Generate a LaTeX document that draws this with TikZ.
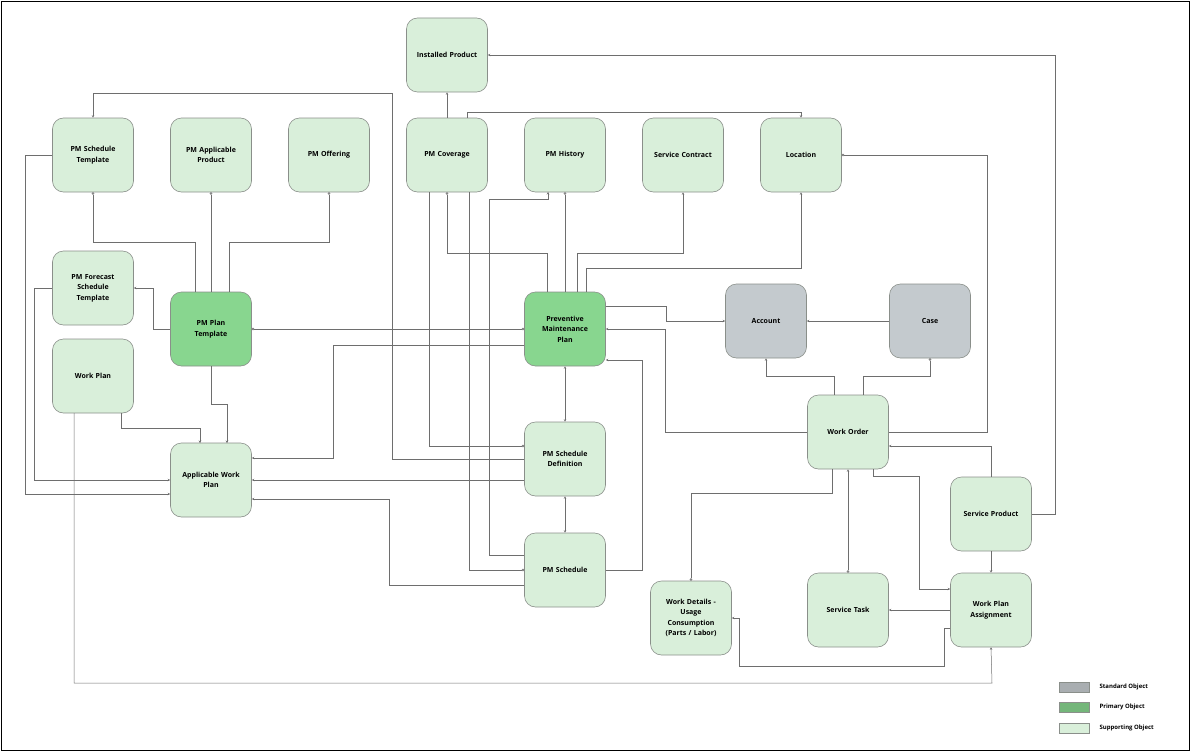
\documentclass[tikz,border=0pt]{standalone}
\usepackage{fontspec}
\setmainfont{Open Sans}
\usetikzlibrary{arrows.meta}
\definecolor{sup}{HTML}{D9EFDA}
\definecolor{pri}{HTML}{88D68F}
\definecolor{std}{HTML}{C4CACE}
\definecolor{bd}{HTML}{8A8F8A}
\definecolor{ln}{HTML}{6E6E6E}
\begin{document}
\begin{tikzpicture}[x=1pt,y=-1pt,
  box/.style={draw=bd,line width=0.6pt,rounded corners=11pt,minimum width=81pt,minimum height=74pt,inner sep=1pt,align=center,text width=76pt,font=\fontsize{7}{10.5}\selectfont\bfseries},
  s/.style={box,fill=sup}, p/.style={box,fill=pri}, g/.style={box,fill=std},
  c/.style={draw=ln,line width=0.5pt},
  a/.style={c,-{Stealth[length=2.5pt,width=2.5pt]}},
  o/.style={c,-{Circle[open,length=2.5pt]}},
  lg/.style={font=\fontsize{6}{7}\selectfont\bfseries,anchor=west}]
\useasboundingbox (0,0) rectangle (1191,752);
\draw[black,line width=0.8pt] (1.5,1.5) rectangle (1189.5,750.5);
% nodes
\node[s] (ip) at (447,55) {Installed Product};
\node[s] (pst) at (93,155) {PM Schedule\\Template};
\node[s] (pap) at (211,155) {PM Applicable\\Product};
\node[s] (pmo) at (329,155) {PM Offering};
\node[s] (pcov) at (447,155) {PM Coverage};
\node[s] (phist) at (565,155) {PM History};
\node[s] (sc) at (683,155) {Service Contract};
\node[s] (loc) at (801,155) {Location};
\node[s] (pfst) at (93,288) {PM Forecast\\Schedule\\Template};
\node[p] (ppt) at (211,329) {PM Plan\\Template};
\node[p] (pmp) at (565,329) {Preventive\\Maintenance\\Plan};
\node[g] (acc) at (766,321) {Account};
\node[g] (case) at (930,321) {Case};
\node[s] (wp) at (93,376) {Work Plan};
\node[s] (awp) at (211,480) {Applicable Work\\Plan};
\node[s] (psd) at (565,459) {PM Schedule\\Definition};
\node[s] (wo) at (848,432) {Work Order};
\node[s] (sp) at (991,514) {Service Product};
\node[s] (ps) at (565,570) {PM Schedule};
\node[s] (wd) at (691,618) {Work Details -\\Usage\\Consumption\\(Parts / Labor)};
\node[s] (st) at (848,610) {Service Task};
\node[s] (wpa) at (991,610) {Work Plan\\Assignment};
% connectors
\draw[a] (psd.west |- 0,459) -- (392,459) -- (392,93) -- (93,93) -- (pst.north);
\draw[a] (pst.west) -- (25,155) -- (25,494) -- (awp.west |- 0,494);
\draw[a] (pfst.west) -- (34,288) -- (34,480) -- (awp.west);
\draw[a] (ppt.west) -- (153,329) -- (153,288) -- (pfst.east);
\draw[o] (195,292) -- (195,242) -- (93,242) -- (pst.south);
\draw[o] (pap.north |- ppt.north) -- (pap.south);
\draw[o] (229,292) -- (229,242) -- (329,242) -- (pmo.south);
\draw[c,{Circle[open,length=2.5pt]}-{Circle[open,length=2.5pt]}] (ppt.east) -- (pmp.west);
\draw[a] (pmp.west |- 0,345) -- (333,345) -- (333,458) -- (awp.east |- 0,458);
\draw[a] (psd.west |- 0,480) -- (awp.east);
\draw[a] (ps.west |- 0,585) -- (389,585) -- (389,499) -- (awp.east |- 0,499);
\draw[a] (ppt.south) -- (211,404) -- (227,404) -- (227,443);
\draw[a] (121,413) -- (121,428) -- (200,428) -- (200,443);
\draw[a] (74,413) -- (74,683) -- (992,683) -- (wpa.south);
\draw[a] (pcov.north) -- (ip.south);
\draw[a] (467,118) -- (467,112) -- (801,112) -- (loc.north);
\draw[o] (547,292) -- (547,253) -- (447,253) -- (pcov.south);
\draw[o] (429,192) -- (429,446) -- (psd.west |- 0,446);
\draw[o] (469,192) -- (469,570) -- (ps.west);
\draw[a] (489,555) -- (489,199) -- (548,199) -- (548,192);
\draw[c] (489,555) -- (ps.west |- 0,555);
\draw[o] (pmp.north) -- (phist.south);
\draw[a] (577,292) -- (577,253) -- (683,253) -- (sc.south);
\draw[a] (586,292) -- (586,268) -- (801,268) -- (loc.south);
\draw[a] (pmp.east |- 0,306) -- (666,306) -- (666,321) -- (acc.west);
\draw[a] (wo.west) -- (665,432) -- (665,329) -- (pmp.east);
\draw[a] (ps.east) -- (642,570) -- (642,360) -- (pmp.east |- 0,360);
\draw[c,{Stealth[length=2.5pt,width=2.5pt]}-{Stealth[length=2.5pt,width=2.5pt]}] (pmp.south) -- (psd.north);
\draw[c,{Stealth[length=2.5pt,width=2.5pt]}-{Stealth[length=2.5pt,width=2.5pt]}] (psd.south) -- (ps.north);
\draw[a] (case.west) -- (acc.east);
\draw[a] (834,395) -- (834,376) -- (766,376) -- (acc.south);
\draw[o] (863,395) -- (863,376) -- (930,376) -- (case.south);
\draw[o] (wo.east) -- (987,432) -- (987,155) -- (loc.east);
\draw[a] (sp.north) -- (991,446) -- (wo.east |- 0,446);
\draw[a] (873,469) -- (873,476) -- (919,476) -- (919,589) -- (wpa.west |- 0,589);
\draw[o] (832,469) -- (832,493) -- (691,493) -- (wd.north);
\draw[c,{Stealth[length=2.5pt,width=2.5pt]}-{Circle[open,length=2.5pt]}] (wo.south) -- (st.north);
\draw[a] (sp.south) -- (wpa.north);
\draw[a] (wpa.west) -- (st.east);
\draw[a] (wpa.west |- 0,628) -- (944,628) -- (944,666) -- (739,666) -- (739,618) -- (wd.east);
\draw[a] (sp.east) -- (1055,514) -- (1055,55) -- (ip.east);
% legend
\draw[bd,fill=std!80!black!70!std] (1059,682) rectangle (1089,692);
\draw[bd,fill=pri!85!black] (1059,702) rectangle (1089,712);
\draw[bd,fill=sup] (1059,723) rectangle (1089,733);
\node[lg] (l1) at (1096,687) {Standard Object};
\node[lg] (l2) at (1096,707) {Primary Object};
\node[lg] (l3) at (1096,728) {Supporting Object};
\end{tikzpicture}
\end{document}
